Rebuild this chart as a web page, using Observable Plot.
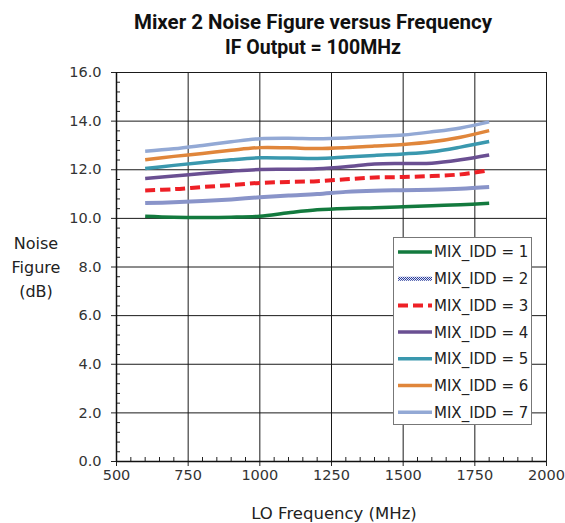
<!DOCTYPE html>
<html>
<head>
<meta charset="utf-8">
<script src="https://cdn.jsdelivr.net/npm/d3@7"></script>
<script src="https://cdn.jsdelivr.net/npm/@observablehq/plot@0.6"></script>
<style>
  body { margin: 0; background: #fff; }
  #wrap { position: relative; width: 565px; height: 523px; font-family: "Liberation Sans", Arial, sans-serif; color: #222; }
  .abs { position: absolute; white-space: nowrap; }
</style>
</head>
<body>
<div id="wrap"></div>
<script>
// ---- data ----
const titleText = "Mixer 2 Noise Figure versus Frequency";
const subtitleText = "IF Output = 100MHz";
const xLabel = "LO Frequency (MHz)";
const yLabelLines = ["Noise", "Figure", "(dB)"];

const freq = [600, 700, 800, 900, 1000, 1100, 1200, 1300, 1400, 1500, 1600, 1700, 1800];
const idd1 = [10.09, 10.05, 10.04, 10.05, 10.09, 10.23, 10.35, 10.41, 10.44, 10.48, 10.52, 10.56, 10.62];
const idd2 = [10.63, 10.66, 10.71, 10.78, 10.87, 10.94, 11.00, 11.09, 11.14, 11.16, 11.18, 11.22, 11.29];
const idd3 = [11.15, 11.20, 11.29, 11.37, 11.46, 11.50, 11.53, 11.61, 11.68, 11.70, 11.74, 11.81, 11.98];
const idd4 = [11.64, 11.74, 11.85, 11.94, 12.01, 12.02, 12.04, 12.12, 12.24, 12.26, 12.27, 12.41, 12.61];
const idd5 = [12.05, 12.18, 12.30, 12.41, 12.49, 12.48, 12.46, 12.52, 12.59, 12.65, 12.74, 12.93, 13.16];
const idd6 = [12.41, 12.55, 12.67, 12.80, 12.91, 12.90, 12.87, 12.91, 12.98, 13.04, 13.15, 13.34, 13.61];
const idd7 = [12.76, 12.86, 13.00, 13.15, 13.28, 13.30, 13.28, 13.31, 13.37, 13.43, 13.56, 13.72, 13.97];

const seriesNames = ["MIX_IDD = 1", "MIX_IDD = 2", "MIX_IDD = 3", "MIX_IDD = 4", "MIX_IDD = 5", "MIX_IDD = 6", "MIX_IDD = 7"];
const seriesValues = [idd1, idd2, idd3, idd4, idd5, idd6, idd7];

const xTicks = [500, 750, 1000, 1250, 1500, 1750, 2000];
const yTicks = [0, 2, 4, 6, 8, 10, 12, 14, 16];
const xMinor = d3.range(500, 2001, 50).filter(v => v % 250 !== 0);
const yMinor = d3.range(0, 16.001, 0.4).map(v => +v.toFixed(1)).filter(v => Math.abs(v / 2 - Math.round(v / 2)) > 1e-6);

// ---- styles ----
const styles = [
  {stroke: "#137a3e", width: 3.5, dash: null},
  {stroke: "url(#chk)", width: 4, dash: null},
  {stroke: "#ee2026", width: 4, dash: "10,5"},
  {stroke: "#6a4f92", width: 3.5, dash: null},
  {stroke: "#3a98ae", width: 3.5, dash: null},
  {stroke: "#e0863b", width: 3.5, dash: null},
  {stroke: "#93a9d5", width: 3.5, dash: null}
];

const rows = seriesNames.flatMap((name, i) => freq.map((f, j) => ({series: name, f, nf: seriesValues[i][j]})));

const gridColor = "#1a1a1a";
const plot = Plot.plot({
  width: 565,
  height: 523,
  marginLeft: 116,
  marginRight: 19,
  marginTop: 72,
  marginBottom: 62,
  style: {background: "transparent", fontFamily: "'DejaVu Sans', sans-serif", overflow: "visible"},
  x: {type: "linear", domain: [500, 2000], label: null},
  y: {type: "linear", domain: [0, 16], label: null},
  marks: [
    Plot.gridX(xTicks, {stroke: gridColor, strokeOpacity: 1, strokeWidth: 1}),
    Plot.gridY(yTicks, {stroke: gridColor, strokeOpacity: 1, strokeWidth: 1}),
    Plot.axisX(xMinor, {tickSize: -4, text: null, stroke: "#222", label: null}),
    Plot.axisY(yMinor, {tickSize: -4, text: null, stroke: "#222", label: null}),
    Plot.axisX(xTicks, {tickSize: 5, tickPadding: 3, tickFormat: d => String(d), fontSize: 14.5, fill: "#333", stroke: "#222", label: null}),
    Plot.axisY(yTicks, {tickSize: 5, tickPadding: 10, tickFormat: d => d.toFixed(1), fontSize: 14.5, fill: "#333", stroke: "#222", label: null}),
    Plot.ruleX([500], {stroke: "#111", strokeWidth: 1.5}),
    Plot.ruleY([0], {stroke: "#111", strokeWidth: 1.5}),
    ...seriesNames.map((name, i) => Plot.line(rows.filter(r => r.series === name), {
      x: "f", y: "nf", curve: "catmull-rom",
      stroke: styles[i].stroke, strokeWidth: styles[i].width,
      strokeDasharray: styles[i].dash, strokeLinecap: "butt"
    }))
  ]
});

const wrap = document.getElementById("wrap");
wrap.appendChild(plot);

// checker pattern for dotted series
d3.select(plot).insert("defs", ":first-child").html(
  `<pattern id="chk" patternUnits="userSpaceOnUse" width="2" height="2">
     <rect width="2" height="2" fill="#e6e9f4"/>
     <rect x="0" y="0" width="1" height="1" fill="#2c3e9e"/>
     <rect x="1" y="1" width="1" height="1" fill="#2c3e9e"/>
   </pattern>`
);

// title / subtitle
function addText(text, css) {
  const d = document.createElement("div");
  d.className = "abs";
  d.textContent = text;
  Object.assign(d.style, css);
  wrap.appendChild(d);
  return d;
}
addText(titleText, {left: "0px", width: "626px", textAlign: "center", top: "11px", fontFamily: "Roboto, 'Liberation Sans', sans-serif", fontWeight: "bold", fontSize: "20.5px", color: "#111", lineHeight: "22px"});
addText(subtitleText, {left: "0px", width: "626px", textAlign: "center", top: "37px", fontFamily: "Roboto, 'Liberation Sans', sans-serif", fontWeight: "bold", fontSize: "19.5px", color: "#111", lineHeight: "22px"});
addText(xLabel, {left: "0px", width: "668px", textAlign: "center", top: "504px", fontFamily: "'DejaVu Sans', sans-serif", fontSize: "16.5px", color: "#222", lineHeight: "20px"});
const yl = document.createElement("div");
yl.className = "abs";
Object.assign(yl.style, {left: "0px", width: "72px", textAlign: "center", top: "232px", fontFamily: "'DejaVu Sans', sans-serif", fontSize: "16px", color: "#222", lineHeight: "24px"});
yl.innerHTML = yLabelLines.join("<br>");
wrap.appendChild(yl);

// legend
const lg = document.createElement("div");
lg.className = "abs";
Object.assign(lg.style, {left: "393px", top: "237px", width: "137px", height: "186px", background: "#fff", border: "1px solid #777"});
wrap.appendChild(lg);
const lsvg = d3.select(lg).append("svg").attr("width", 137).attr("height", 186).style("display", "block");
lsvg.append("defs").html(
  `<pattern id="chk2" patternUnits="userSpaceOnUse" width="2" height="2">
     <rect width="2" height="2" fill="#e6e9f4"/>
     <rect x="0" y="0" width="1" height="1" fill="#2c3e9e"/>
     <rect x="1" y="1" width="1" height="1" fill="#2c3e9e"/>
   </pattern>`
);
seriesNames.forEach((name, i) => {
  const cy = 14 + i * 26.7;
  lsvg.append("line").attr("x1", 4).attr("x2", 38).attr("y1", cy).attr("y2", cy)
    .attr("stroke", styles[i].stroke === "url(#chk)" ? "url(#chk2)" : styles[i].stroke)
    .attr("stroke-width", styles[i].width)
    .attr("stroke-dasharray", styles[i].dash);
  lsvg.append("text").attr("x", 40).attr("y", cy).attr("dy", "0.36em")
    .attr("font-family", "'DejaVu Sans', sans-serif").attr("font-size", 15).attr("fill", "#222")
    .text(name);
});
</script>
</body>
</html>
